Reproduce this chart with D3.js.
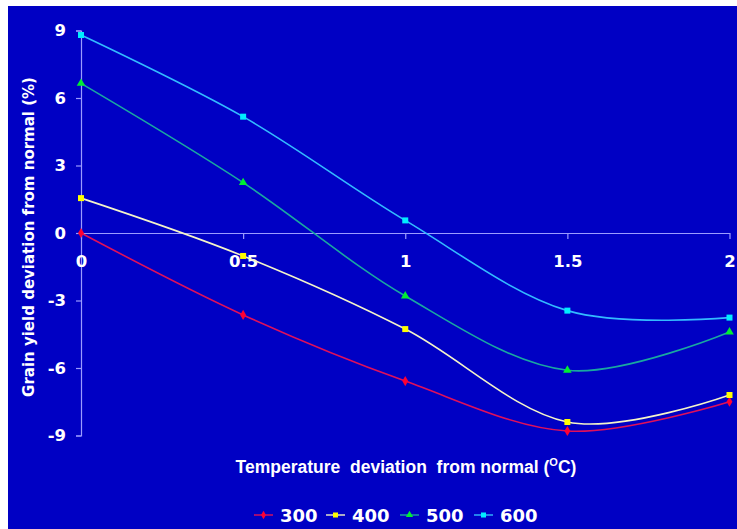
<!DOCTYPE html>
<html>
<head>
<meta charset="utf-8">
<script src="https://cdn.jsdelivr.net/npm/d3@7"></script>
<style>
  html, body { margin: 0; padding: 0; background: #ffffff; }
  svg { display: block; }
</style>
</head>
<body>
<div id="chart"></div>
<script>
// Temperature deviation (°C) on the x axis
const temps = [0, 0.5, 1, 1.5, 2];

// Grain yield deviation (%) for each CO2 level
const series300 = [0, -3.64, -6.58, -8.8, -7.5];
const series400 = [1.55, -1.02, -4.27, -8.4, -7.2];
const series500 = [6.65, 2.24, -2.8, -6.1, -4.4];
const series600 = [8.8, 5.17, 0.56, -3.45, -3.76];

const seriesNames = ["300", "400", "500", "600"];
const xTickLabels = [0, 0.5, 1, 1.5, 2];
const yTickLabels = [9, 6, 3, 0, -3, -6, -9];

const W = 737, H = 529;
const svg = d3.select("#chart").append("svg").attr("width", W).attr("height", H);

// panel background
svg.append("rect").attr("x", 8).attr("y", 6).attr("width", W - 8).attr("height", H - 6)
  .attr("fill", "#0000c4");

const x = d3.scaleLinear().domain([0, 2]).range([81, 729.5]);
const y = d3.scaleLinear().domain([-9, 9]).range([435.5, 30.5]);

const axisColor = "#9c9cff";
const tickFont = "'DejaVu Sans', Verdana, sans-serif";
const titleFont = "'Liberation Sans', Arial, sans-serif";

// y axis
const yAxis = svg.append("g").attr("transform", `translate(${x(0)},0)`)
  .call(d3.axisLeft(y).tickValues(yTickLabels).tickSize(5).tickFormat(d3.format("d")));
yAxis.select(".domain").attr("stroke", axisColor).attr("stroke-width", 1.2);
yAxis.selectAll(".tick line").attr("stroke", axisColor).attr("stroke-width", 1.2);
yAxis.selectAll(".tick text").attr("fill", "#ffffff").attr("font-family", tickFont)
  .attr("font-weight", "bold").attr("font-size", 16.5).attr("x", -15).text(d => d < 0 ? "-" + Math.abs(d) : d);

// x axis along y = 0
const xAxis = svg.append("g").attr("transform", `translate(0,${y(0)})`)
  .call(d3.axisBottom(x).tickValues(xTickLabels).tickSize(6).tickSizeOuter(0).tickFormat(d => d));
xAxis.select(".domain").attr("stroke", axisColor).attr("stroke-width", 1.2);
xAxis.selectAll(".tick line").attr("stroke", axisColor).attr("stroke-width", 1.2);
xAxis.selectAll(".tick text").attr("fill", "#ffffff").attr("font-family", tickFont)
  .attr("font-weight", "bold").attr("font-size", 16.5).attr("y", 22);

// axis titles
svg.append("text")
  .attr("transform", `translate(34,237) rotate(-90)`)
  .attr("text-anchor", "middle")
  .attr("fill", "#ffffff").attr("font-family", tickFont).attr("font-weight", "bold")
  .attr("font-size", 15)
  .text("Grain yield deviation from normal (%)");

const xt = svg.append("text")
  .attr("x", 406).attr("y", 473)
  .attr("text-anchor", "middle")
  .attr("fill", "#ffffff").attr("font-family", titleFont).attr("font-weight", "bold")
  .attr("font-size", 17.5)
  .attr("xml:space", "preserve");
xt.append("tspan").text("Temperature  deviation  from normal (");
xt.append("tspan").attr("dy", -7).attr("font-size", 11).text("O");
xt.append("tspan").attr("dy", 7).text("C)");

// series
const seriesData = [
  { name: seriesNames[0], values: series300, line: "#e0105a", mark: "#ff0033", shape: "diamond" },
  { name: seriesNames[1], values: series400, line: "#f4f4c8", mark: "#ffff00", shape: "square" },
  { name: seriesNames[2], values: series500, line: "#19a8a0", mark: "#00ee33", shape: "triangle" },
  { name: seriesNames[3], values: series600, line: "#33bbff", mark: "#00eeff", shape: "square" }
];

const line = d3.line()
  .x((d, i) => x(temps[i]))
  .y(d => y(d))
  .curve(d3.curveCardinal.tension(0));

const symbolOf = s => s === "diamond" ? d3.symbolDiamond : s === "triangle" ? d3.symbolTriangle : d3.symbolSquare;
const sizeOf = s => s === "diamond" ? 30 : s === "triangle" ? 32 : 36;

seriesData.forEach(s => {
  svg.append("path").datum(s.values)
    .attr("d", line).attr("fill", "none")
    .attr("stroke", s.line).attr("stroke-width", 1.6);
  svg.selectAll(null).data(s.values).enter().append("path")
    .attr("transform", (d, i) => `translate(${x(temps[i])},${y(d)})`)
    .attr("d", d3.symbol().type(symbolOf(s.shape)).size(sizeOf(s.shape)))
    .attr("fill", s.mark);
});

// legend
const legendX = [254, 326, 400, 474];
const legendY = 515;
seriesData.forEach((s, i) => {
  const g = svg.append("g").attr("transform", `translate(${legendX[i]},${legendY})`);
  g.append("line").attr("x1", 0).attr("x2", 19).attr("y1", 0).attr("y2", 0)
    .attr("stroke", s.line).attr("stroke-width", 1.4);
  g.append("path").attr("transform", "translate(9.5,0)")
    .attr("d", d3.symbol().type(symbolOf(s.shape)).size(sizeOf(s.shape) * 0.7))
    .attr("fill", s.mark);
  g.append("text").attr("x", 26).attr("y", 7)
    .attr("fill", "#ffffff").attr("font-family", tickFont).attr("font-weight", "bold")
    .attr("font-size", 18).text(s.name);
});
</script>
</body>
</html>
